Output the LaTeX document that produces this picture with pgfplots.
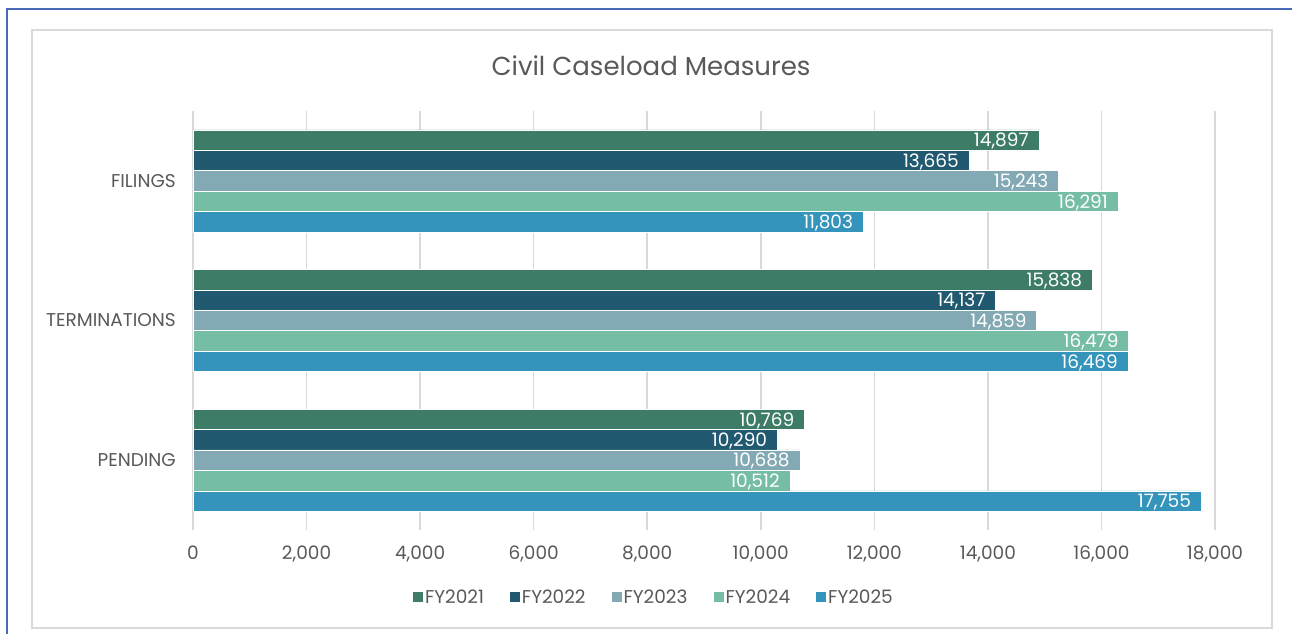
\documentclass[border=0pt]{standalone}
\usepackage{pgfplots}
\pgfplotsset{compat=1.18}
\usepackage{fontspec}
\setmainfont{Poppins}
\definecolor{c21}{HTML}{3D7C66}
\definecolor{c22}{HTML}{215A70}
\definecolor{c23}{HTML}{82A9B4}
\definecolor{c24}{HTML}{75BDA4}
\definecolor{c25}{HTML}{3494BB}
\definecolor{txt}{HTML}{595959}
\definecolor{gridc}{HTML}{D9D9D9}
\definecolor{frame}{HTML}{4A6AB8}
\begin{document}
\begin{tikzpicture}[x=1pt,y=1pt]
\path[use as bounding box, fill=white] (0,0) rectangle (1292,634);
\draw[frame, line width=2pt] (7,0) -- (7,625) -- (1292,625);
\draw[gridc, line width=1.5pt] (32,6) rectangle (1272,604);
\node[text=txt, font=\fontsize{26}{26}\selectfont] at (651,568) {Civil Caseload Measures};
\begin{axis}[
  at={(193pt,104pt)}, anchor=south west,
  scale only axis, width=1022pt, height=419pt,
  xbar, bar width=0.146,
  xmin=0, xmax=18000, ymin=-0.5, ymax=2.5,
  axis line style={draw=none},
  xmajorgrids, grid style={gridc, line width=1.5pt},
  xtick={0,2000,...,18000},
  scaled x ticks=false,
  ytick={0,1,2}, yticklabels={PENDING,TERMINATIONS,FILINGS},
  major tick length=0pt,
  /pgf/number format/.cd, 1000 sep={,}, fixed, assume math mode=true, /pgfplots/.cd,
  xticklabel style={inner sep=0pt, anchor=north, yshift=-16pt, text=txt, font=\fontsize{18.5}{18.5}\selectfont},
  yticklabel style={inner sep=0pt, anchor=east, xshift=-17pt, text=txt, font=\fontsize{18.5}{18.5}\selectfont},
  nodes near coords, point meta=x,
  nodes near coords style={anchor=east, inner sep=0pt, xshift=-10pt, text depth=0pt, text=white, font=\fontsize{18.5}{18.5}\selectfont},
  legend columns=5,
  legend style={at={(0.451,-0.16)}, anchor=center, draw=none, fill=none,
    font=\fontsize{18.5}{18.5}\selectfont, text=txt,
    /tikz/every even column/.append style={column sep=24pt}},
  legend image code/.code={\fill[#1,draw=none] (0pt,-5pt) rectangle (10pt,5pt);},
]
\addplot[fill=c21, draw=white, line width=0.4pt, bar shift=0.292] coordinates {(14897,2) (15838,1) (10769,0)};
\addplot[fill=c22, draw=white, line width=0.4pt, bar shift=0.146] coordinates {(13665,2) (14137,1) (10290,0)};
\addplot[fill=c23, draw=white, line width=0.4pt, bar shift=0] coordinates {(15243,2) (14859,1) (10688,0)};
\addplot[fill=c24, draw=white, line width=0.4pt, bar shift=-0.146] coordinates {(16291,2) (16479,1) (10512,0)};
\addplot[fill=c25, draw=white, line width=0.4pt, bar shift=-0.292] coordinates {(11803,2) (16469,1) (17755,0)};
\legend{FY2021,FY2022,FY2023,FY2024,FY2025}
\end{axis}
\end{tikzpicture}
\end{document}
